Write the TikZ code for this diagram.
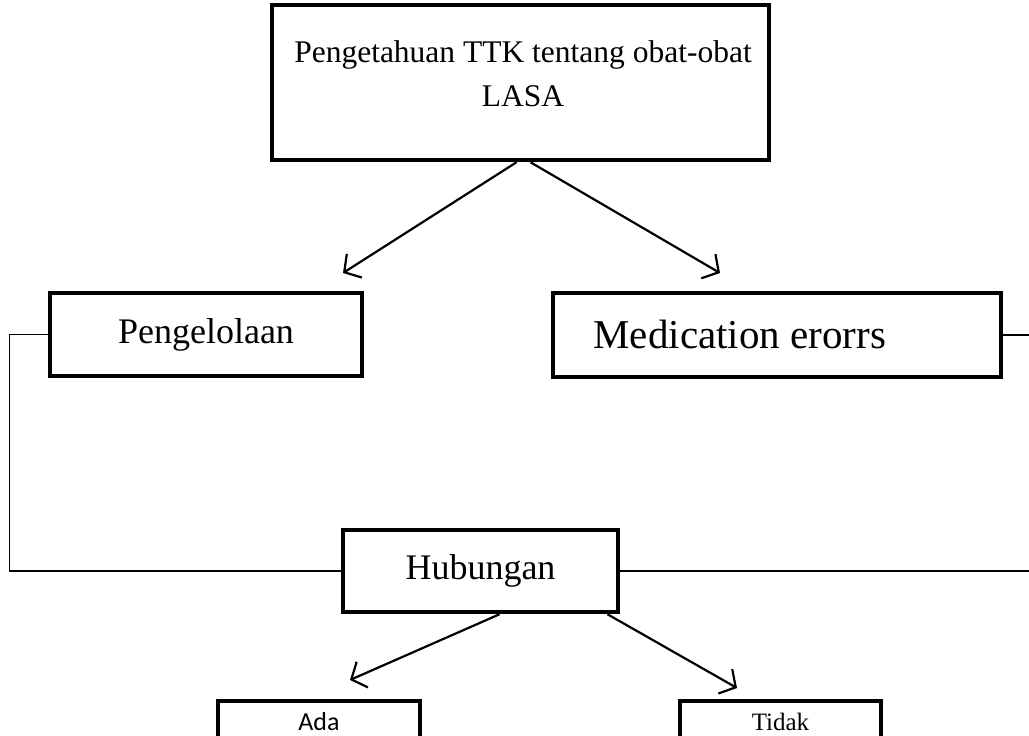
\documentclass[tikz,border=0pt]{standalone}
\usepackage{fontspec}
\setmainfont{Liberation Serif}
\newfontfamily\calibrifont{Carlito}
\usetikzlibrary{arrows.meta, positioning, calc}

\begin{document}
\begin{tikzpicture}[
    x=1pt, y=-1pt,
    every node/.style={font=\fontsize{36}{42}\selectfont},
    bigbox/.style={
        rectangle,
        draw,
        line width=4.5pt,
        inner sep=0pt
    },
    smallbox/.style={
        rectangle,
        draw,
        line width=3.5pt,
        inner sep=0pt
    },
    arrow/.style={
        line width=2.2pt,
        -{Straight Barb[length=12pt, width=28pt, line width=2.2pt]}
    },
    link/.style={
        line width=1.2pt
    }
]

\useasboundingbox (0,0) rectangle (1029,736);

% ==================== TOP: KNOWLEDGE ====================

\node (know) [bigbox, minimum width=497pt, minimum height=155pt] at (520.5,82.5) {};
\node (know_text) [font=\fontsize{31.5}{44}\selectfont, align=center] at (523,74) {Pengetahuan TTK tentang obat-obat\\LASA};

% ==================== MIDDLE: TWO VARIABLES ====================

\node (manage) [bigbox, minimum width=312pt, minimum height=83pt] at (206,334.5) {Pengelolaan};
\node (errors) [bigbox, minimum width=448pt, minimum height=84pt] at (777,335) {};
\node (errors_text) [anchor=west, font=\fontsize{41}{46}\selectfont] at (590,334) {Medication erorrs};

\coordinate (tip_manage) at (343,273);
\coordinate (tip_errors) at (720,273);

\draw [arrow] ($(know.south)+(-4,0)$) -- (tip_manage);
\draw [arrow] ($(know.south)+(10,0)$) -- (tip_errors);

% ==================== BOTTOM: RELATION ====================

\node (relation) [bigbox, minimum width=275pt, minimum height=82pt] at (480.5,571) {Hubungan};

\node (yes) [smallbox, minimum width=202pt, minimum height=42pt, font=\calibrifont\fontsize{26}{30}\selectfont] at (319,722) {Ada};
\node (no) [smallbox, minimum width=201pt, minimum height=42pt, font=\fontsize{25}{30}\selectfont] at (780.5,722) {Tidak};

\coordinate (tip_yes) at (350,680);
\coordinate (tip_no) at (737,688);

\draw [arrow] ($(relation.south)+(19,0)$) -- (tip_yes);
\draw [arrow] ($(relation.south)+(127,0)$) -- (tip_no);

% side links
\coordinate (edge_errors) at (1029,335);
\coordinate (edge_relation) at (1029,571);

\draw [link] (manage.west) -- ++(-38,0) |- (relation.west);
\draw [link] (errors.east) -- (edge_errors);
\draw [link] (relation.east) -- (edge_relation);

\end{tikzpicture}
\end{document}
